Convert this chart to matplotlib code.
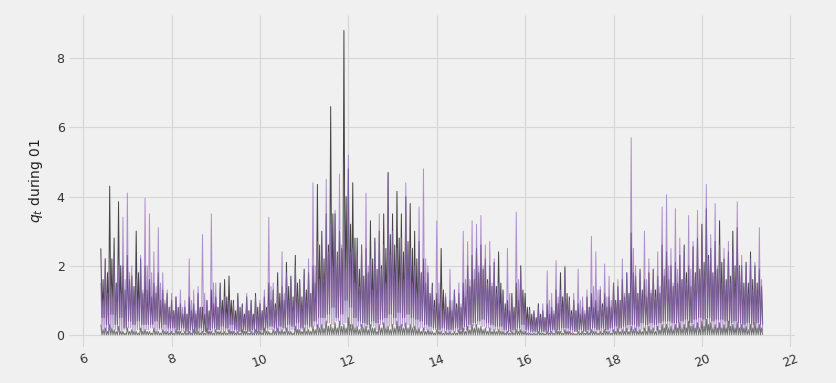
import numpy as np
import matplotlib
matplotlib.use("Agg")
import matplotlib.pyplot as plt

# ---- data ----
x_start = 6.4    # first sample
x_step = 0.025   # spacing between successive samples (peak, low, mid, low, ...)

black_peaks = [
    2.5, 2.2, 4.3, 2.8, 3.85, 2.0, 2.3, 1.7, 3.0, 2.2,
    2.0, 1.6, 1.5, 1.8, 1.3, 1.2, 1.0, 1.1, 0.9, 0.8,
    1.1, 0.9, 1.2, 0.8, 1.0, 1.3, 1.1, 1.5, 1.6, 1.7,
    1.0, 1.2, 0.9, 1.1, 1.0, 1.2, 0.9, 1.1, 1.5, 1.3,
    1.8, 1.4, 2.1, 1.7, 2.3, 1.6, 1.9, 1.8, 2.0, 4.35,
    3.0, 3.5, 6.6, 3.5, 3.0, 8.8, 4.8, 4.4, 2.8, 2.6,
    2.5, 3.3, 2.8, 3.0, 3.5, 4.7, 3.5, 4.15, 3.5, 4.0,
    3.8, 3.0, 2.7, 2.2, 1.8, 1.5, 1.2, 2.5, 1.1, 1.0,
    1.3, 1.2, 1.5, 2.0, 2.3, 2.5, 2.6, 2.2, 2.0, 2.1,
    2.4, 1.3, 1.0, 1.2, 1.5, 2.0, 1.2, 0.8, 0.7, 0.9,
    0.7, 0.9, 0.8, 1.3, 1.8, 1.95, 1.1, 1.0, 0.9, 0.8,
    1.1, 1.2, 1.0, 1.3, 1.2, 1.1, 1.5, 1.4, 1.6, 1.8,
    2.95, 1.7, 1.9, 1.6, 1.8, 1.9, 1.7, 2.6, 2.4, 2.0,
    2.1, 2.3, 2.6, 2.0, 2.55, 2.8, 3.2, 3.65, 2.5, 2.7,
    3.3, 2.2, 2.4, 3.0, 3.1, 2.0, 2.1, 2.4, 2.0, 1.9,
]
black_mids = [
    1.6, 1.8, 2.2, 1.5, 2.0, 1.3, 1.6, 1.4, 1.8, 1.2,
    1.3, 1.1, 1.2, 1.0, 0.9, 0.8, 0.7, 0.8, 0.6, 0.6,
    0.7, 0.6, 0.8, 0.6, 0.7, 0.9, 0.8, 1.0, 1.1, 1.0,
    0.7, 0.8, 0.6, 0.7, 0.6, 0.8, 0.7, 0.8, 1.0, 0.9,
    1.2, 1.0, 1.4, 1.1, 1.5, 1.1, 1.3, 1.2, 1.5, 2.6,
    2.2, 2.6, 3.5, 2.4, 2.5, 4.0, 3.2, 2.8, 1.9, 1.7,
    1.8, 2.2, 1.9, 2.0, 2.5, 2.9, 2.6, 2.8, 2.4, 2.7,
    2.5, 2.2, 1.8, 1.5, 1.2, 1.0, 0.9, 1.3, 0.8, 0.7,
    0.9, 0.8, 1.1, 1.4, 1.6, 1.8, 1.9, 1.6, 1.4, 1.4,
    1.5, 0.9, 0.7, 0.8, 1.0, 1.3, 0.8, 0.6, 0.5, 0.6,
    0.5, 0.6, 0.6, 0.9, 1.1, 1.2, 0.7, 0.7, 0.6, 0.6,
    0.8, 0.8, 0.7, 0.9, 0.8, 0.8, 1.0, 1.0, 1.1, 1.2,
    1.8, 1.2, 1.3, 1.1, 1.2, 1.3, 1.2, 1.7, 1.6, 1.4,
    1.5, 1.6, 1.8, 1.4, 1.8, 1.9, 2.1, 2.3, 1.8, 1.9,
    2.1, 1.6, 1.7, 2.0, 2.0, 1.5, 1.5, 1.6, 1.5, 1.4,
]
black_lows = [
    0.5, 0.3, 0.6, 0.3, 0.5, 0.2, 0.4, 0.3, 0.4, 0.3,
    0.3, 0.3, 0.4, 0.2, 0.3, 0.2, 0.2, 0.15, 0.2, 0.1,
    0.15, 0.1, 0.2, 0.1, 0.15, 0.2, 0.15, 0.25, 0.2, 0.3,
    0.15, 0.1, 0.15, 0.1, 0.15, 0.1, 0.15, 0.2, 0.25, 0.2,
    0.25, 0.2, 0.3, 0.25, 0.35, 0.2, 0.3, 0.25, 0.4, 0.5,
    0.5, 0.6, 0.8, 0.5, 0.6, 1.0, 0.8, 0.5, 0.4, 0.35,
    0.3, 0.4, 0.35, 0.45, 0.5, 0.6, 0.5, 0.65, 0.5, 0.6,
    0.5, 0.45, 0.4, 0.3, 0.25, 0.2, 0.15, 0.2, 0.15, 0.15,
    0.2, 0.15, 0.25, 0.3, 0.35, 0.4, 0.45, 0.35, 0.3, 0.25,
    0.25, 0.15, 0.1, 0.15, 0.2, 0.3, 0.15, 0.1, 0.1, 0.1,
    0.1, 0.1, 0.15, 0.15, 0.2, 0.2, 0.15, 0.1, 0.15, 0.1,
    0.15, 0.2, 0.15, 0.2, 0.15, 0.2, 0.25, 0.2, 0.25, 0.3,
    0.3, 0.25, 0.35, 0.3, 0.35, 0.3, 0.35, 0.4, 0.4, 0.35,
    0.35, 0.4, 0.45, 0.35, 0.45, 0.5, 0.45, 0.5, 0.4, 0.45,
    0.45, 0.4, 0.35, 0.4, 0.35, 0.3, 0.35, 0.3, 0.35, 0.3,
]

purple_peaks = [
    1.5, 2.2, 1.9, 2.3, 2.0, 3.4, 4.1, 2.0, 1.6, 2.3,
    3.95, 3.5, 2.4, 3.1, 1.8, 1.3, 1.2, 1.1, 1.3, 1.0,
    2.2, 1.3, 1.4, 2.9, 1.0, 3.5, 1.5, 1.3, 1.1, 1.0,
    0.9, 1.0, 0.8, 1.2, 0.9, 1.1, 1.0, 1.3, 3.4, 1.5,
    1.4, 2.4, 1.8, 1.6, 2.0, 1.5, 1.7, 2.2, 4.4, 2.7,
    2.5, 4.5, 3.2, 3.6, 4.65, 3.0, 5.2, 2.5, 2.3, 2.6,
    4.1, 2.2, 2.7, 3.5, 2.6, 4.65, 3.0, 2.5, 2.8, 4.4,
    2.5, 2.0, 3.7, 4.8, 2.0, 1.4, 3.3, 1.3, 1.2, 1.9,
    1.3, 1.5, 3.0, 2.7, 3.3, 3.2, 3.45, 2.6, 2.7, 2.2,
    1.5, 1.2, 2.5, 1.0, 3.55, 1.9, 0.8, 0.7, 0.6, 0.8,
    0.9, 1.85, 1.2, 2.15, 1.3, 2.0, 1.0, 1.2, 1.9, 1.1,
    1.3, 2.85, 2.4, 1.4, 2.05, 1.7, 1.5, 1.6, 2.2, 1.8,
    5.7, 2.0, 1.8, 3.0, 2.2, 1.9, 2.4, 3.7, 4.05, 2.5,
    3.65, 2.8, 2.5, 3.45, 2.7, 3.6, 3.0, 4.35, 2.9, 3.8,
    2.6, 2.5, 2.7, 2.4, 3.85, 2.3, 2.0, 2.2, 2.1, 3.1,
]
purple_mids = [
    1.0, 1.2, 1.1, 1.4, 1.2, 1.6, 1.8, 1.2, 1.0, 1.3,
    2.0, 1.8, 1.4, 1.5, 1.0, 0.8, 0.7, 0.7, 0.8, 0.6,
    1.0, 0.7, 0.8, 1.2, 0.6, 1.5, 0.8, 0.7, 0.6, 0.6,
    0.5, 0.6, 0.5, 0.7, 0.5, 0.6, 0.6, 0.7, 1.4, 0.8,
    0.8, 1.2, 1.0, 0.9, 1.1, 0.8, 1.0, 1.2, 2.0, 1.6,
    1.6, 2.4, 2.0, 2.2, 2.6, 1.8, 2.4, 1.5, 1.4, 1.5,
    2.0, 1.3, 1.6, 1.9, 1.5, 2.3, 1.8, 1.5, 1.6, 2.2,
    1.5, 1.2, 1.8, 2.2, 1.1, 0.8, 1.5, 0.7, 0.7, 1.0,
    0.8, 0.9, 1.6, 1.6, 1.9, 2.0, 2.0, 1.5, 1.5, 1.2,
    0.9, 0.7, 1.2, 0.6, 1.6, 1.0, 0.5, 0.4, 0.4, 0.5,
    0.5, 1.0, 0.7, 1.1, 0.8, 1.0, 0.6, 0.7, 1.0, 0.7,
    0.8, 1.4, 1.3, 0.8, 1.1, 1.0, 0.9, 1.0, 1.2, 1.1,
    2.5, 1.2, 1.1, 1.6, 1.3, 1.1, 1.4, 1.9, 2.0, 1.5,
    1.9, 1.6, 1.5, 1.9, 1.6, 1.9, 1.7, 2.2, 1.7, 2.0,
    1.5, 1.4, 1.5, 1.4, 2.0, 1.3, 1.2, 1.3, 1.2, 1.6,
]
purple_lows = [
    0.15, 0.1, 0.2, 0.15, 0.1, 0.15, 0.2, 0.1, 0.15, 0.1,
    0.15, 0.2, 0.1, 0.15, 0.1, 0.05, 0.1, 0.05, 0.1, 0.05,
    0.05, 0.1, 0.05, 0.1, 0.05, 0.1, 0.15, 0.05, 0.1, 0.05,
    0.05, 0.1, 0.05, 0.1, 0.05, 0.1, 0.05, 0.1, 0.15, 0.1,
    0.1, 0.15, 0.1, 0.15, 0.1, 0.15, 0.1, 0.2, 0.25, 0.2,
    0.25, 0.35, 0.3, 0.4, 0.3, 0.35, 0.25, 0.2, 0.25, 0.2,
    0.2, 0.25, 0.15, 0.3, 0.2, 0.25, 0.3, 0.2, 0.25, 0.3,
    0.2, 0.15, 0.2, 0.15, 0.1, 0.15, 0.1, 0.1, 0.05, 0.1,
    0.1, 0.05, 0.15, 0.2, 0.25, 0.3, 0.25, 0.2, 0.15, 0.15,
    0.1, 0.05, 0.1, 0.05, 0.1, 0.1, 0.05, 0.05, 0.05, 0.05,
    0.05, 0.05, 0.1, 0.05, 0.1, 0.05, 0.05, 0.1, 0.05, 0.1,
    0.05, 0.1, 0.1, 0.05, 0.1, 0.1, 0.1, 0.15, 0.1, 0.15,
    0.15, 0.1, 0.15, 0.1, 0.15, 0.15, 0.2, 0.15, 0.2, 0.15,
    0.15, 0.2, 0.15, 0.2, 0.15, 0.2, 0.2, 0.15, 0.2, 0.15,
    0.15, 0.1, 0.15, 0.1, 0.15, 0.1, 0.15, 0.1, 0.15, 0.1,
]

gray_peaks = [
    0.3, 0.2, 0.3, 0.15, 0.25, 0.1, 0.2, 0.15, 0.1, 0.2,
    0.15, 0.1, 0.2, 0.1, 0.15, 0.1, 0.1, 0.15, 0.1, 0.1,
    0.1, 0.15, 0.1, 0.1, 0.2, 0.1, 0.15, 0.1, 0.1, 0.15,
    0.1, 0.1, 0.15, 0.1, 0.1, 0.15, 0.1, 0.2, 0.1, 0.15,
    0.2, 0.15, 0.2, 0.1, 0.25, 0.15, 0.2, 0.15, 0.25, 0.3,
    0.3, 0.4, 0.3, 0.35, 0.4, 0.3, 0.5, 0.3, 0.25, 0.3,
    0.25, 0.3, 0.2, 0.3, 0.35, 0.25, 0.3, 0.4, 0.3, 0.35,
    0.3, 0.25, 0.2, 0.2, 0.15, 0.1, 0.15, 0.1, 0.1, 0.1,
    0.1, 0.15, 0.2, 0.25, 0.3, 0.3, 0.25, 0.2, 0.2, 0.15,
    0.15, 0.1, 0.1, 0.1, 0.15, 0.15, 0.1, 0.05, 0.05, 0.1,
    0.05, 0.1, 0.1, 0.15, 0.1, 0.15, 0.1, 0.05, 0.1, 0.1,
    0.1, 0.15, 0.1, 0.1, 0.15, 0.1, 0.15, 0.2, 0.15, 0.2,
    0.25, 0.2, 0.15, 0.2, 0.25, 0.2, 0.25, 0.3, 0.3, 0.25,
    0.3, 0.35, 0.3, 0.4, 0.3, 0.35, 0.4, 0.45, 0.35, 0.3,
    0.35, 0.3, 0.4, 0.3, 0.35, 0.3, 0.25, 0.3, 0.35, 0.3,
]
gray_mids = [
    0.15, 0.1, 0.2, 0.1, 0.1, 0.05, 0.1, 0.1, 0.05, 0.1,
    0.1, 0.05, 0.1, 0.05, 0.1, 0.05, 0.05, 0.1, 0.05, 0.05,
    0.05, 0.1, 0.05, 0.05, 0.1, 0.05, 0.1, 0.05, 0.05, 0.1,
    0.05, 0.05, 0.1, 0.05, 0.05, 0.1, 0.05, 0.1, 0.05, 0.1,
    0.1, 0.1, 0.1, 0.05, 0.15, 0.1, 0.1, 0.1, 0.15, 0.2,
    0.2, 0.25, 0.2, 0.2, 0.25, 0.2, 0.3, 0.2, 0.15, 0.2,
    0.15, 0.2, 0.1, 0.2, 0.2, 0.15, 0.2, 0.25, 0.2, 0.2,
    0.2, 0.15, 0.1, 0.1, 0.1, 0.05, 0.1, 0.05, 0.05, 0.05,
    0.05, 0.1, 0.1, 0.15, 0.2, 0.2, 0.15, 0.1, 0.1, 0.1,
    0.1, 0.05, 0.05, 0.05, 0.1, 0.1, 0.05, 0.03, 0.03, 0.05,
    0.03, 0.05, 0.05, 0.1, 0.05, 0.1, 0.05, 0.03, 0.05, 0.05,
    0.05, 0.1, 0.05, 0.05, 0.1, 0.05, 0.1, 0.1, 0.1, 0.1,
    0.15, 0.1, 0.1, 0.1, 0.15, 0.1, 0.15, 0.2, 0.2, 0.15,
    0.2, 0.2, 0.2, 0.25, 0.2, 0.2, 0.25, 0.3, 0.2, 0.2,
    0.2, 0.2, 0.25, 0.2, 0.2, 0.2, 0.15, 0.2, 0.2, 0.2,
]
gray_lows = [0.0] * len(gray_peaks)

y_label = "$q_t$ during 01"
x_ticks = [6, 8, 10, 12, 14, 16, 18, 20, 22]
y_ticks = [0, 2, 4, 6, 8]


def cycle(peaks, mids, lows):
    """Order the read values as peak, low, mid, low for each interval."""
    out = []
    for p, m, lo in zip(peaks, mids, lows):
        out.extend([p, lo, m, lo])
    return np.array(out)


black = cycle(black_peaks, black_mids, black_lows)
purple = cycle(purple_peaks, purple_mids, purple_lows)
gray = cycle(gray_peaks, gray_mids, gray_lows)
x = x_start + x_step * np.arange(len(black))

plt.style.use("fivethirtyeight")
fig = plt.figure(figsize=(8.37, 3.83), dpi=100, facecolor="#f0f0f0")
ax = fig.add_axes([0.083, 0.094, 0.867, 0.867])
ax.set_facecolor("#f0f0f0")

ax.plot(x, black, color="#1a1a1a", lw=0.7, alpha=0.8, zorder=2)
ax.plot(x, purple, color="#9467bd", lw=0.7, alpha=0.7, zorder=3)
ax.plot(x, gray, color="#555555", lw=0.7, alpha=0.8, zorder=4)

ax.set_xlim(5.69, 22.11)
ax.set_ylim(-0.35, 9.25)
ax.set_xticks(x_ticks)
ax.set_yticks(y_ticks)
ax.grid(True, color="#d6d6d6", lw=0.8)
for s in ax.spines.values():
    s.set_visible(False)
ax.tick_params(axis="both", labelsize=9, colors="#333333", length=0)
for lbl in ax.get_xticklabels():
    lbl.set_rotation(20)
ax.set_ylabel(y_label, fontsize=10, color="#222222", labelpad=8)

fig.savefig("out.png", dpi=100, facecolor="#f0f0f0")
